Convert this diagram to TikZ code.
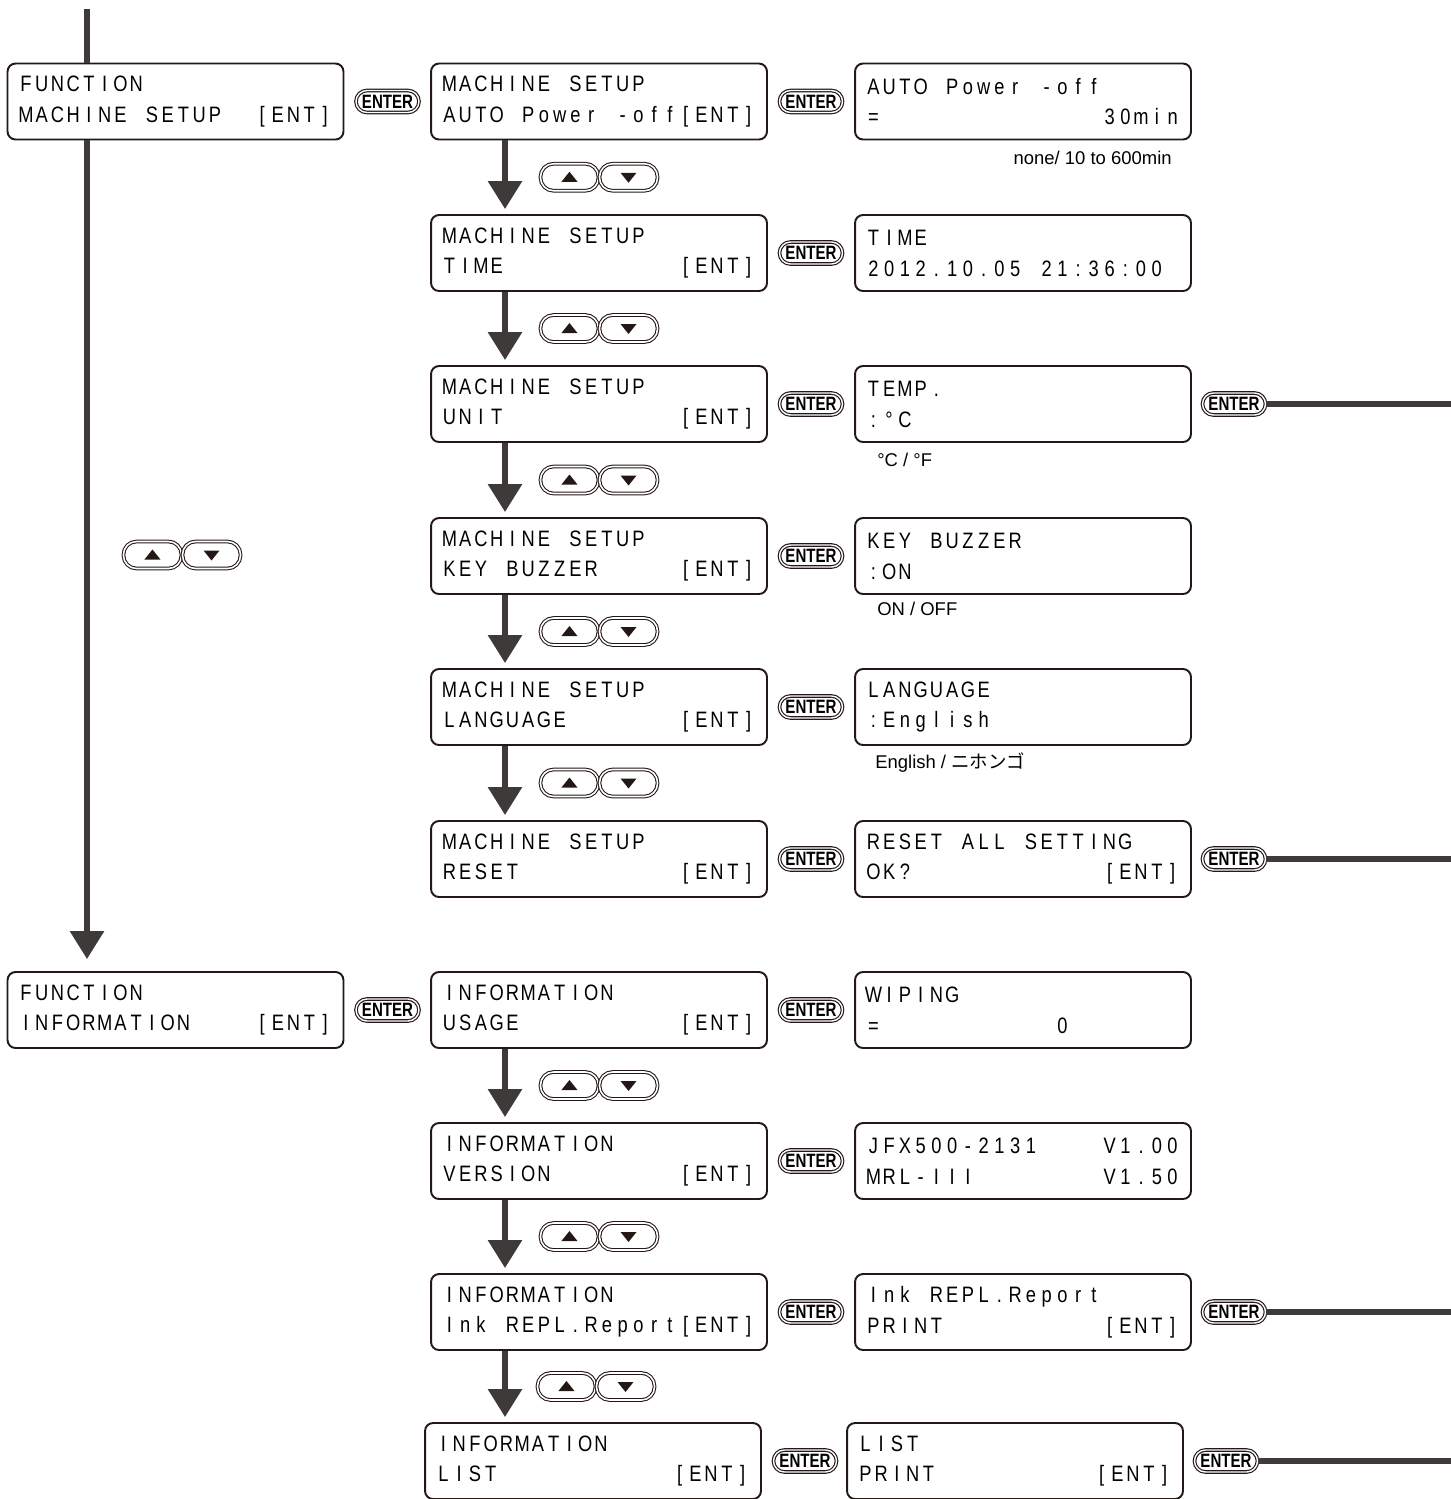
\documentclass[tikz,border=0pt]{standalone}
\usepackage{fontspec}
\setmainfont{Liberation Sans}
\newfontfamily\lcdfont[FakeStretch=0.82]{Liberation Sans}
\newfontfamily\keyfont[FakeStretch=0.78]{Liberation Sans}
\newfontfamily\notefont{Liberation Sans}
\newfontfamily\jpfont{Noto Sans CJK JP}
\usetikzlibrary{arrows.meta,positioning,calc}
\definecolor{keyblack}{HTML}{231815}
\definecolor{flowgray}{HTML}{3E3A39}

\newlength\lcdcell
\setlength\lcdcell{0.315cm}
\ExplSyntaxOn
\NewDocumentCommand\lcd{m}{\str_map_inline:nn{#1}{\makebox[\lcdcell][c]{##1}}}
\ExplSyntaxOff

\tikzset{
  lcdbox/.style={draw=keyblack, line width=1.1pt, rounded corners=0.16cm, fill=white,
    text width=6.3cm, inner xsep=0.21cm, inner ysep=0pt, minimum height=1.52cm, align=left,
    font=\lcdfont\fontsize{12.7}{17.6}\selectfont},
  enterkey/.style={draw=keyblack, double, double distance=0.8pt, line width=0.65pt,
    rounded corners=0.22cm, minimum width=1.26cm, minimum height=0.44cm, inner sep=0pt,
    fill=white, font=\keyfont\bfseries\fontsize{11}{11}\selectfont},
  arrowkey/.style={draw=keyblack, double, double distance=0.9pt, line width=0.6pt,
    rounded corners=0.26cm, minimum width=1.16cm, minimum height=0.54cm, inner sep=0pt},
  trunk/.style={draw=flowgray, line width=0.12cm},
  flow/.style={trunk, -{Triangle[width=0.66cm,length=0.56cm]}, shorten >=0.1cm},
  note/.style={inner sep=0pt, font=\notefont\fontsize{10.5}{12}\selectfont}
}

\newcommand\updown[2]{%
  \node[arrowkey, anchor=east] (#1up) at (#2) {};
  \node[arrowkey, anchor=west] (#1dn) at (#2) {};
  \fill[keyblack] ([shift={(-0.16cm,-0.09cm)}]#1up.center) -- ([shift={(0.16cm,-0.09cm)}]#1up.center) -- ([yshift=0.11cm]#1up.center) -- cycle;
  \fill[keyblack] ([shift={(-0.16cm,0.09cm)}]#1dn.center) -- ([shift={(0.16cm,0.09cm)}]#1dn.center) -- ([yshift=-0.11cm]#1dn.center) -- cycle;
}

\begin{document}
\begin{tikzpicture}[x=0.02cm, y=-0.02cm]
\useasboundingbox (0,0) rectangle (1451,1499);
\coordinate (top) at (87,9);
\coordinate (downx) at (505,0);
\coordinate (edge) at (1451,0);

\node[lcdbox] (f1) at (175.5,101.5) {\lcd{FUNCTION}\\\lcd{MACHINE SETUP}\hfill\lcd{[ENT]}};
\node[lcdbox] (f2) at (175.5,1010) {\lcd{FUNCTION}\\\lcd{INFORMATION}\hfill\lcd{[ENT]}};

\node[lcdbox] (m1) at (599,101.5) {\lcd{MACHINE SETUP}\\\lcd{AUTO Power -off[ENT]}};
\node[lcdbox] (m2) at (599,253) {\lcd{MACHINE SETUP}\\\lcd{TIME}\hfill\lcd{[ENT]}};
\node[lcdbox] (m3) at (599,404) {\lcd{MACHINE SETUP}\\\lcd{UNIT}\hfill\lcd{[ENT]}};
\node[lcdbox] (m4) at (599,556) {\lcd{MACHINE SETUP}\\\lcd{KEY BUZZER}\hfill\lcd{[ENT]}};
\node[lcdbox] (m5) at (599,707) {\lcd{MACHINE SETUP}\\\lcd{LANGUAGE}\hfill\lcd{[ENT]}};
\node[lcdbox] (m6) at (599,859) {\lcd{MACHINE SETUP}\\\lcd{RESET}\hfill\lcd{[ENT]}};
\node[lcdbox] (m7) at (599,1010) {\lcd{INFORMATION}\\\lcd{USAGE}\hfill\lcd{[ENT]}};
\node[lcdbox] (m8) at (599,1161) {\lcd{INFORMATION}\\\lcd{VERSION}\hfill\lcd{[ENT]}};
\node[lcdbox] (m9) at (599,1312) {\lcd{INFORMATION}\\\lcd{Ink REPL.Report[ENT]}};
\node[lcdbox] (m10) at (593,1461) {\lcd{INFORMATION}\\\lcd{LIST}\hfill\lcd{[ENT]}};

\node[lcdbox] (r1) at (1023,101.5) {\lcd{AUTO Power -off}\\\lcd{=}\hfill\lcd{30min}};
\node[lcdbox] (r2) at (1023,253) {\lcd{TIME}\\\lcd{2012.10.05 21:36:00}};
\node[lcdbox] (r3) at (1023,404) {\lcd{TEMP.}\\\lcd{:°C}};
\node[lcdbox] (r4) at (1023,556) {\lcd{KEY BUZZER}\\\lcd{:ON}};
\node[lcdbox] (r5) at (1023,707) {\lcd{LANGUAGE}\\\lcd{:English}};
\node[lcdbox] (r6) at (1023,859) {\lcd{RESET ALL SETTING}\\\lcd{OK?}\hfill\lcd{[ENT]}};
\node[lcdbox] (r7) at (1023,1010) {\lcd{WIPING}\\\lcd{=}\hspace{11\lcdcell}\lcd{0}};
\node[lcdbox] (r8) at (1023,1161) {\lcd{JFX500-2131}\hfill\lcd{V1.00}\\\lcd{MRL-III}\hfill\lcd{V1.50}};
\node[lcdbox] (r9) at (1023,1312) {\lcd{Ink REPL.Report}\\\lcd{PRINT}\hfill\lcd{[ENT]}};
\node[lcdbox] (r10) at (1015,1461) {\lcd{LIST}\\\lcd{PRINT}\hfill\lcd{[ENT]}};

\node[note, anchor=east] (n1) at (1172,158) {none/ 10 to 600min};
\node[note, anchor=west] (n3) at (877,460) {°C / °F};
\node[note, anchor=west] (n4) at (877,609) {ON / OFF};
\node[note, anchor=west] (n5) at (875,763) {English / {\jpfont ニホンゴ}};

\node[enterkey, right=0.22cm of f1] (ef1) {ENTER};
\node[enterkey, right=0.22cm of f2] (ef2) {ENTER};
\foreach \i in {1,...,10}
  \node[enterkey, right=0.22cm of m\i] (em\i) {ENTER};
\foreach \i in {3,6,9,10} {
  \node[enterkey, right=0.2cm of r\i] (ex\i) {ENTER};
  \draw[trunk] (ex\i.east) -- (ex\i -| edge);
}

\draw[trunk] (top) -- (f1.north -| top);
\draw[flow, shorten >=0.24cm] (f1.south -| top) -- (f2.north -| top);
\updown{kf}{182,555}

\foreach \i in {1,...,5,7,8,9} {
  \pgfmathtruncatemacro\j{\i+1}
  \draw[flow] (m\i.south -| downx) -- (m\j.north -| downx);
  \updown{k\i}{$(m\i.south)!0.5!(m\j.north)$}
}
\end{tikzpicture}
\end{document}
